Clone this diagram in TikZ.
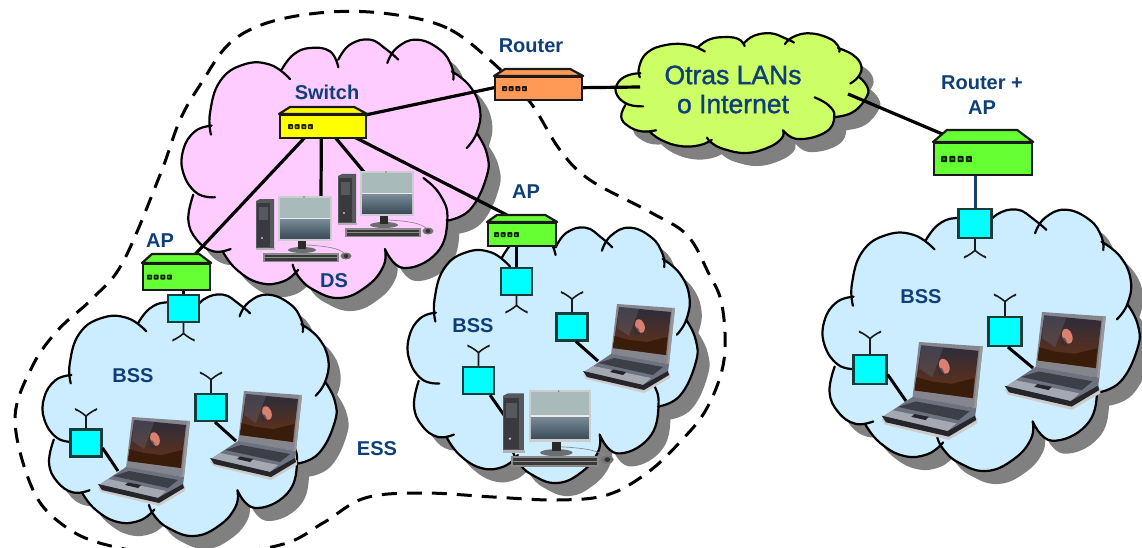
\documentclass[tikz,border=0pt]{standalone}
\usepackage{fontspec}
\setmainfont{Liberation Sans}
\newfontfamily\otrasfont[FakeBold=1.3]{Liberation Sans}
\usetikzlibrary{calc}
\definecolor{lbl}{HTML}{0F3F78}
\definecolor{cpink}{HTML}{FFCCFF}
\definecolor{cblue}{HTML}{CCECFF}
\definecolor{cgreen}{HTML}{CCFF66}
\definecolor{cshadow}{HTML}{808080}
\definecolor{dyellow}{HTML}{FFFF00}
\definecolor{dorange}{HTML}{FF9955}
\definecolor{dgreen}{HTML}{66FF33}
\definecolor{ccyan}{HTML}{00FFFF}
\definecolor{edge}{HTML}{1A1A1A}
\definecolor{bluecable}{HTML}{17406D}
\definecolor{lidC}{HTML}{85858E}
\definecolor{scrTop}{HTML}{2C2C3C}
\definecolor{scrMid}{HTML}{3A2A30}
\definecolor{scrBot}{HTML}{6A3212}
\definecolor{deckC}{HTML}{6E7280}
\definecolor{keysC}{HTML}{3C3F48}
\definecolor{palmC}{HTML}{A4A8B2}
\definecolor{frontC}{HTML}{25252B}
\definecolor{blobC}{HTML}{D98070}
\definecolor{towerC}{HTML}{3A3A3E}
\definecolor{towerL}{HTML}{55585C}
\definecolor{bezelC}{HTML}{CBCECC}
\definecolor{monTop}{HTML}{A9BABA}
\definecolor{monMid}{HTML}{7A8C98}
\definecolor{monBot}{HTML}{3C4C5A}
\definecolor{standC}{HTML}{2A2A2A}
\definecolor{baseC}{HTML}{6A6E70}
\definecolor{kbOut}{HTML}{8A8A8A}
\definecolor{kbIn}{HTML}{3A3A3A}
\tikzset{
 label text/.style={font=\fontsize{20}{22}\selectfont\bfseries,text=lbl,inner sep=0pt,align=center},
 big text/.style={font=\otrasfont\fontsize{26.5}{29}\selectfont,text=lbl,inner sep=0pt,align=center},
 cable/.style={line width=3.2pt,black},
 thin cable/.style={line width=3pt,black},
 antenna/.style={line width=1.6pt,edge},
 cyanbox/.style={rectangle,draw=edge!85!ccyan,line width=2.2pt,fill=ccyan,inner sep=0pt},
 body/.style={rectangle,draw=edge,line width=2.2pt,inner sep=0pt},
 ess/.style={draw=black,line width=3pt,dash pattern=on 15pt off 10pt},
}
\def\cloudFill{plot[smooth,tension=.75] coordinates {(123,345)(120,280)(150,185)(220,135)(300,135)(360,178)}
 -- plot[smooth,tension=.75] coordinates {(335,150)(370,105)(420,85)(480,95)(505,143)}
 -- plot[smooth,tension=.75] coordinates {(505,120)(540,75)(600,60)(650,90)(685,120)}
 -- plot[smooth,tension=.75] coordinates {(652,130)(680,85)(740,60)(810,90)(845,140)(850,180)}
 -- plot[smooth,tension=.75] coordinates {(845,155)(900,200)(930,270)(920,340)(890,385)}
 -- plot[smooth,tension=.75] coordinates {(920,340)(950,400)(950,470)(900,570)(830,603)}
 -- plot[smooth,tension=.75] coordinates {(760,475)(810,525)(832,600)(800,700)(700,745)(645,688)}
 -- plot[smooth,tension=.75] coordinates {(645,688)(640,740)(590,800)(510,835)(430,810)(385,770)(368,735)}
 -- plot[smooth,tension=.75] coordinates {(385,750)(340,785)(270,790)(200,750)(158,695)}
 -- plot[smooth,tension=.75] coordinates {(182,688)(130,695)(80,660)(55,600)(70,525)}
 -- plot[smooth,tension=.75] coordinates {(135,533)(80,520)(40,460)(40,390)(75,335)(125,318)}
 -- cycle}
\def\cloudStroke{plot[smooth,tension=.75] coordinates {(123,345)(120,280)(150,185)(220,135)(300,135)(360,178)}
 plot[smooth,tension=.75] coordinates {(335,150)(370,105)(420,85)(480,95)(505,143)}
 plot[smooth,tension=.75] coordinates {(505,120)(540,75)(600,60)(650,90)(685,120)}
 plot[smooth,tension=.75] coordinates {(652,130)(680,85)(740,60)(810,90)(845,140)(850,180)}
 plot[smooth,tension=.75] coordinates {(845,155)(900,200)(930,270)(920,340)(890,385)}
 plot[smooth,tension=.75] coordinates {(920,340)(950,400)(950,470)(900,570)(830,603)}
 plot[smooth,tension=.75] coordinates {(760,475)(810,525)(832,600)(800,700)(700,745)(645,688)}
 plot[smooth,tension=.75] coordinates {(645,688)(640,740)(590,800)(510,835)(430,810)(385,770)(368,735)}
 plot[smooth,tension=.75] coordinates {(385,750)(340,785)(270,790)(200,750)(158,695)}
 plot[smooth,tension=.75] coordinates {(182,688)(130,695)(80,660)(55,600)(70,525)}
 plot[smooth,tension=.75] coordinates {(135,533)(80,520)(40,460)(40,390)(75,335)(125,318)}}
\newcommand\cloudShadow[4]{%
 \pgfmathsetmacro\csx{(#3-#1)/915}\pgfmathsetmacro\csy{(#4-#2)/777}%
 \begin{scope}[shift={(#1+12,#2+13)},xscale=\csx,yscale=\csy,shift={(-36,-58)}]
  \fill[cshadow] \cloudFill;
 \end{scope}}
\newcommand\cloudBody[5]{%
 \pgfmathsetmacro\csx{(#3-#1)/915}\pgfmathsetmacro\csy{(#4-#2)/777}%
 \begin{scope}[shift={(#1,#2)},xscale=\csx,yscale=\csy,shift={(-36,-58)}]
  \fill[#5] \cloudFill;
  \draw[black,line width=2.2pt,line cap=round] \cloudStroke;
 \end{scope}}
\def\ledsize{5}
% name, west, north(body), east, south, top inset, top height, colour, led offset
\newcommand\device[9]{%
 \node[body,fill=#8,minimum width=#4pt-#2pt,minimum height=#5pt-#3pt,anchor=north west] (#1) at (#2,#3) {};
 \draw[edge,line width=2.2pt,line join=round,fill=#8] (#1.north west) -- ++(#6,-#7) -- ($(#1.north east)+(-#6-2,-#7)$) -- (#1.north east) -- cycle;
 \foreach \i in {0,1,2,3}{
  \fill[black!85!#8,rounded corners=.8pt] ($(#1.west)+(#9+\i*\ledsize*1.33,\ledsize*.5)$) rectangle ++(\ledsize,-\ledsize);
  \fill[#8!55!black] ($(#1.west)+(#9+\i*\ledsize*1.33+\ledsize*.3,\ledsize*.2)$) rectangle ++(\ledsize*.4,-\ledsize*.4);
 }}
\newcommand\ant[4]{%
 \draw[antenna] (#1.#2) -- ++(0,#3) coordinate (#1j) (#1j) .. controls +(-2,#4*3) and +(-6,#4*4) .. ++(-9,#4*6) (#1j) .. controls +(2,#4*3) and +(6,#4*4) .. ++(9,#4*6);}
\newcommand\laptop[3]{%
 \begin{scope}[shift={(#1,#2)},scale=#3]
  \fill[black!20] (-34,70)--(26,85)--(53,69)--(53,74)--(27,89)--(-31,75)--cycle;
  \fill[lidC] (0,0)--(58,4)--(52,60)--(-6,51)--cycle;
  \fill[black!40] (55.5,4)--(58,4)--(52,60)--(50,60)--cycle;
  \shade[top color=scrTop,middle color=scrMid,bottom color=scrBot] (2,3)--(54,8)--(49,51)--(-4,44)--cycle;
  \fill[scrBot!55!black] (-2.5,32)--(12,36)--(30,38)--(50,33)--(49,51)--(-4,44)--cycle;
  \fill[scrTop!70!white,opacity=.35] (2,3)--(22,5)--(18,16)--(12,32)--(0,24)--cycle;
  \fill[blobC,rotate around={20:(23,22)}] (23,22) ellipse (4.5 and 7);
  \fill[scrTop,opacity=.6,rotate around={20:(20,27)}] (20,27) ellipse (2.5 and 4);
  \fill[deckC] (-6,50)--(52,60)--(51,68)--(26,82)--(-33,68)--cycle;
  \fill[keysC] (-3,54)--(46,63)--(36,71)--(-19,59)--cycle;
  \fill[palmC] (-24,62)--(34,74)--(26,81)--(-32,67.5)--cycle;
  \fill[frontC] (-4,65.5)--(9,68)--(6,71)--(-7,68)--cycle;
  \fill[frontC] (-34,67)--(26,81)--(51,67)--(52,71)--(27,86)--(-30,73)--cycle;
 \end{scope}}
\newcommand\desktop[3]{%
 \begin{scope}[shift={(#1,#2)},scale=#3]
  \fill[towerL] (0,5)--(4,3)--(18,3)--(18,52)--(0,52)--cycle;
  \fill[towerC] (1,7) rectangle (14,51);
  \fill[towerL] (3,11) rectangle (12,24);
  \fill[white!70!towerC] (6,42) circle (1.1);
  \fill[black!30] (0,52) rectangle (19,54);
  \fill[bezelC] (22,0) rectangle (76,45);
  \fill[monTop] (24,2) rectangle (74,22);
  \shade[top color=monMid,bottom color=monBot] (24,23) rectangle (74,42);
  \fill[black!8] (24,21.5) rectangle (74,23);
  \fill[black!50] (48,1) circle (.8);
  \fill[baseC] (46,54) ellipse (14 and 3);
  \fill[standC] (42,45) rectangle (50,53);
  \fill[kbOut] (7,57) rectangle (83,66);
  \fill[kbIn] (9,58.5) rectangle (81,64.5);
  \fill[kbOut] (9,61) rectangle (81,61.7);
  \fill[black!55] (90,60) ellipse (5.5 and 3.5);
  \fill[black!80] (90,60) ellipse (2.5 and 2);
  \draw[black!45,line width=.7pt] (50,49) .. controls (70,50) and (82,52) .. (88,57);
 \end{scope}}
\begin{document}
\begin{tikzpicture}[x=1pt,y=-1pt]
\useasboundingbox (0,0) rectangle (1142,548);
\clip (0,0) rectangle (1142,548);
\fill[white] (0,0) rectangle (1142,548);
\draw[ess] plot[smooth cycle,tension=.6] coordinates {
 (492,62)(447,28)(390,14)(330,12)(270,22)(230,43)(202,82)(180,120)(160,175)(123,262)(93,298)(58,330)(32,367)(15,420)(33,490)(63,525)(107,545)(190,557)(280,545)(323,523)(365,498)(423,493)(493,497)(557,500)(607,495)(647,473)(680,442)(707,408)(724,360)(722,305)(708,272)(687,235)(650,212)(590,180)(560,150)(530,102)};
\cloudShadow{182}{39}{487}{298}
\cloudShadow{43}{294}{335}{536}
\cloudShadow{408}{227}{696}{483}
\cloudShadow{823}{209}{1138}{471}
\cloudShadow{616}{33}{867}{153}
\cloudBody{182}{39}{487}{298}{cpink}
\cloudBody{43}{294}{335}{536}{cblue}
\cloudBody{408}{227}{696}{483}{cblue}
\cloudBody{823}{209}{1138}{471}{cblue}
\cloudBody{616}{33}{867}{153}{cgreen}
\coordinate (otrasW) at (640,87);
\coordinate (otrasE) at (848,94);
\coordinate (deskA) at (321,196);
\coordinate (deskB) at (364,172);
\coordinate (lapA) at (118,471);
\coordinate (lapB) at (236,441);
\coordinate (lapC) at (598,361);
\coordinate (pcC) at (504,415);
\coordinate (lapD) at (906,401);
\coordinate (lapE) at (1033,368);
\node[minimum width=86pt,minimum height=23pt,inner sep=0pt,anchor=north west] (sw) at (279,114) {};
\node[minimum width=87pt,minimum height=23pt,inner sep=0pt,anchor=north west] (rt) at (494,76) {};
\node[minimum width=67pt,minimum height=26pt,inner sep=0pt,anchor=north west] (apL) at (142,263) {};
\node[minimum width=68pt,minimum height=23pt,inner sep=0pt,anchor=north west] (apM) at (487,222) {};
\node[minimum width=98pt,minimum height=32pt,inner sep=0pt,anchor=north west] (apR) at (933,142) {};
\node[cyanbox,minimum width=31pt,minimum height=27pt] (bL0) at (183.5,308.5) {};
\node[cyanbox,minimum width=31pt,minimum height=27pt] (bL1) at (86,443) {};
\node[cyanbox,minimum width=31pt,minimum height=27pt] (bL2) at (211,407.5) {};
\node[cyanbox,minimum width=31pt,minimum height=27pt] (bM0) at (516.5,281.5) {};
\node[cyanbox,minimum width=31pt,minimum height=27pt] (bM1) at (572,327) {};
\node[cyanbox,minimum width=31pt,minimum height=27pt] (bM2) at (478.5,380.5) {};
\node[cyanbox,minimum width=33pt,minimum height=29pt] (bR0) at (975,223.5) {};
\node[cyanbox,minimum width=33pt,minimum height=29pt] (bR1) at (870,369.5) {};
\node[cyanbox,minimum width=33pt,minimum height=29pt] (bR2) at (1005,331.5) {};
\draw[cable] ($(sw.north east)+(0,1)$) -- (rt.west);
\draw[cable] (rt.east) -- (otrasW);
\draw[cable] (otrasE) -- ($(apR.north west)+(14,-6)$);
\draw[cable] ($(sw.south west)!.30!(sw.south east)$) -- ($(apL.north east)+(-14,-9)$);
\draw[cable] ($(sw.south west)!.49!(sw.south east)$) -- (deskA);
\draw[cable] ($(sw.south west)!.65!(sw.south east)$) -- (deskB);
\draw[cable] ($(sw.south west)!.88!(sw.south east)$) -- ($(apM.north west)+(20,-7)$);
\draw[cable] (apL.south -| bL0.north) -- (bL0.north);
\draw[cable] (apM.south -| bM0.north) -- (bM0.north);
\draw[line width=3pt,bluecable] (apR.south -| bR0.north) -- (bR0.north);
\draw[thin cable] ($(bL1.east)+(0,5)$) -- (lapA);
\draw[thin cable] ($(bL2.south)+(4,0)$) -- (lapB);
\draw[thin cable] ($(bM1.south)+(4,0)$) -- (lapC);
\draw[thin cable] ($(bM2.south east)+(-5,0)$) -- (pcC);
\draw[thin cable] ($(bR1.east)+(0,5)$) -- (lapD);
\draw[thin cable] ($(bR2.south)+(3,0)$) -- (lapE);
\ant{bL0}{south}{10}{1}
\ant{bL1}{north}{-12}{-1}
\ant{bL2}{north}{-13}{-1}
\ant{bM0}{south}{9}{1}
\ant{bM1}{north}{-13}{-1}
\ant{bM2}{north}{-13}{-1}
\ant{bR0}{south}{11}{1}
\ant{bR1}{north}{-15}{-1}
\ant{bR2}{north}{-14}{-1}
\device{sw}{279}{114}{365}{137}{11}{7}{dyellow}{9}
\device{rt}{494}{76}{581}{99}{11}{7}{dorange}{8}
\device{apL}{142}{263}{209}{289}{10}{9}{dgreen}{5}
\device{apM}{487}{222}{555}{245}{10}{7}{dgreen}{7}
\def\ledsize{6.2}
\device{apR}{933}{142}{1031}{174}{14}{12}{dgreen}{8}
\desktop{338}{171}{1}
\desktop{256}{196}{1}
\desktop{503}{390}{1.16}
\laptop{132}{417}{1}
\laptop{244}{391}{1}
\laptop{617}{304}{1}
\laptop{919}{342}{1.1}
\laptop{1042}{312}{1.1}
\node[label text] (tRouter) at (531,46) {Router};
\node[label text] (tSwitch) at (327,92) {Switch};
\node[label text] (tApL) at (160,241) {AP};
\node[label text] (tApM) at (526,192) {AP};
\node[label text] (tDS) at (334,281) {DS};
\node[label text] (tBssL) at (133,376) {BSS};
\node[label text] (tBssM) at (473,326) {BSS};
\node[label text] (tBssR) at (921,297) {BSS};
\node[label text] (tEss) at (377,449) {ESS};
\node[label text] (tRouterAP) at (982,95) {Router +\\[3pt]AP};
\node[big text] (tOtras) at (733,89.5) {Otras LANs\\o Internet};
\end{tikzpicture}
\end{document}
